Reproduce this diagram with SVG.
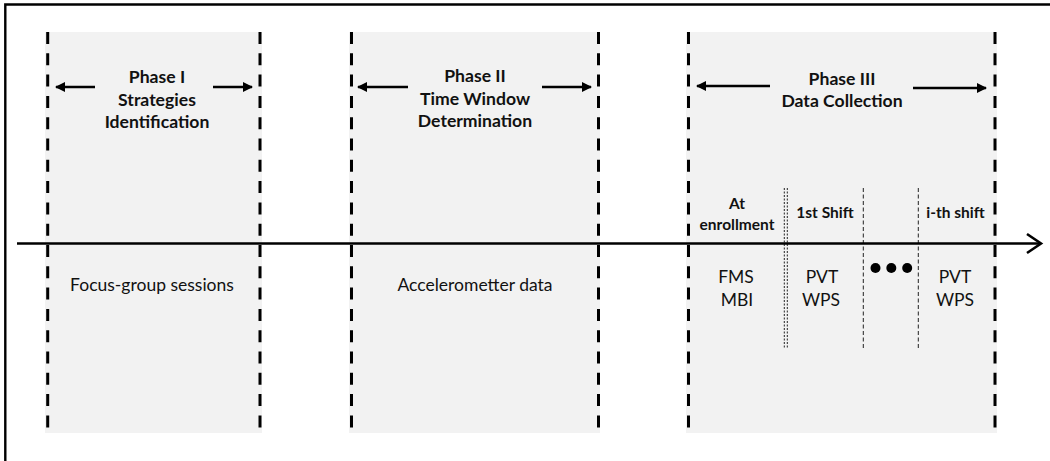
<svg xmlns="http://www.w3.org/2000/svg" width="1050" height="461" viewBox="0 0 1050 461">
  <defs>
    <marker id="tri" viewBox="0 0 10 10" refX="9" refY="5" markerWidth="4" markerHeight="4" orient="auto-start-reverse" markerUnits="strokeWidth">
      <path d="M0,0 L10,5 L0,10 Z" fill="#000"/>
    </marker>
    <style>
      .panel { fill: #f2f2f2; }
      .bound { stroke: #000; stroke-width: 3; stroke-dasharray: 12 9.3; fill: none; }
      .sub2 { stroke: #222; stroke-width: 1; stroke-dasharray: 2 1.5; fill: none; }
      .sub1 { stroke: #222; stroke-width: 1; stroke-dasharray: 4 2.5; fill: none; }
      .dir { stroke: #000; stroke-width: 2.5; fill: none; marker-end: url(#tri); }
      .title { font-family: Lato, "Liberation Sans", sans-serif; font-weight: bold; font-size: 17.6px; fill: #111; text-anchor: middle; }
      .head { font-family: Lato, "Liberation Sans", sans-serif; font-weight: bold; font-size: 15.5px; fill: #111; text-anchor: middle; }
      .body { font-family: Lato, "Liberation Sans", sans-serif; font-size: 17.5px; fill: #111; text-anchor: middle; }
    </style>
  </defs>

  <!-- frame (top and left edges) -->
  <path d="M5.3,461 V4.5 H1050" fill="none" stroke="#000" stroke-width="2.4"/>

  <!-- Phase I -->
  <g id="phase1">
    <rect class="panel" x="45" y="32" width="217" height="401"/>
    <line class="bound" x1="47.7" y1="32" x2="47.7" y2="433"/>
    <line class="bound" x1="260" y1="32" x2="260" y2="433"/>
    <text class="title" x="157" y="83">Phase I</text>
    <text class="title" x="157" y="106">Strategies</text>
    <text class="title" x="157" y="128">Identification</text>
    <text class="body" x="152" y="291">Focus-group sessions</text>
  </g>

  <!-- Phase II -->
  <g id="phase2">
    <rect class="panel" x="349" y="32" width="251" height="401"/>
    <line class="bound" x1="351.5" y1="32" x2="351.5" y2="433"/>
    <line class="bound" x1="598.5" y1="32" x2="598.5" y2="433"/>
    <text class="title" x="475" y="82">Phase II</text>
    <text class="title" x="475" y="105">Time Window</text>
    <text class="title" x="475" y="127">Determination</text>
    <text class="body" x="475" y="291">Accelerometter data</text>
  </g>

  <!-- Phase III -->
  <g id="phase3">
    <rect class="panel" x="686" y="32" width="311" height="401"/>
    <line class="bound" x1="688.5" y1="32" x2="688.5" y2="433"/>
    <line class="bound" x1="995" y1="32" x2="995" y2="433"/>
    <text class="title" x="842" y="85">Phase III</text>
    <text class="title" x="842" y="107">Data Collection</text>
  </g>

  <!-- Phase III sub-periods -->
  <g id="enrollment">
    <text class="head" x="737" y="209">At</text>
    <text class="head" x="737" y="230">enrollment</text>
    <text class="body" x="736" y="283">FMS</text>
    <text class="body" x="737" y="306">MBI</text>
  </g>
  <g id="shift1">
    <text class="head" x="825" y="218">1st Shift</text>
    <text class="body" x="822" y="283">PVT</text>
    <text class="body" x="821" y="306">WPS</text>
  </g>
  <g id="ellipsis">
    <circle cx="875.5" cy="268" r="5" fill="#000"/>
    <circle cx="891.3" cy="268" r="5" fill="#000"/>
    <circle cx="907.2" cy="268" r="5" fill="#000"/>
  </g>
  <g id="shiftN">
    <text class="head" x="955.5" y="218">i-th shift</text>
    <text class="body" x="955" y="283">PVT</text>
    <text class="body" x="955" y="306">WPS</text>
  </g>

  <!-- connectors: span arrows, sub-period dividers, time axis -->
  <g id="connectors">
    <line class="dir" x1="95" y1="87" x2="56" y2="87"/>
    <line class="dir" x1="213" y1="87" x2="252" y2="87"/>
    <line class="dir" x1="408" y1="87" x2="358" y2="87"/>
    <line class="dir" x1="542" y1="87" x2="591" y2="87"/>
    <line class="dir" x1="770" y1="86" x2="697" y2="86"/>
    <line class="dir" x1="913" y1="88" x2="986" y2="88"/>

    <line class="sub2" x1="784.3" y1="188" x2="784.3" y2="349"/>
    <line class="sub2" x1="787.3" y1="188" x2="787.3" y2="349"/>
    <line class="sub1" x1="863.3" y1="188" x2="863.3" y2="349"/>
    <line class="sub1" x1="918.3" y1="188" x2="918.3" y2="349"/>

    <line x1="17" y1="243.5" x2="1040" y2="243.5" stroke="#000" stroke-width="2.5"/>
    <polyline points="1027,234 1041,243.5 1027,253" fill="none" stroke="#000" stroke-width="2.6" stroke-linejoin="miter"/>
  </g>
</svg>
